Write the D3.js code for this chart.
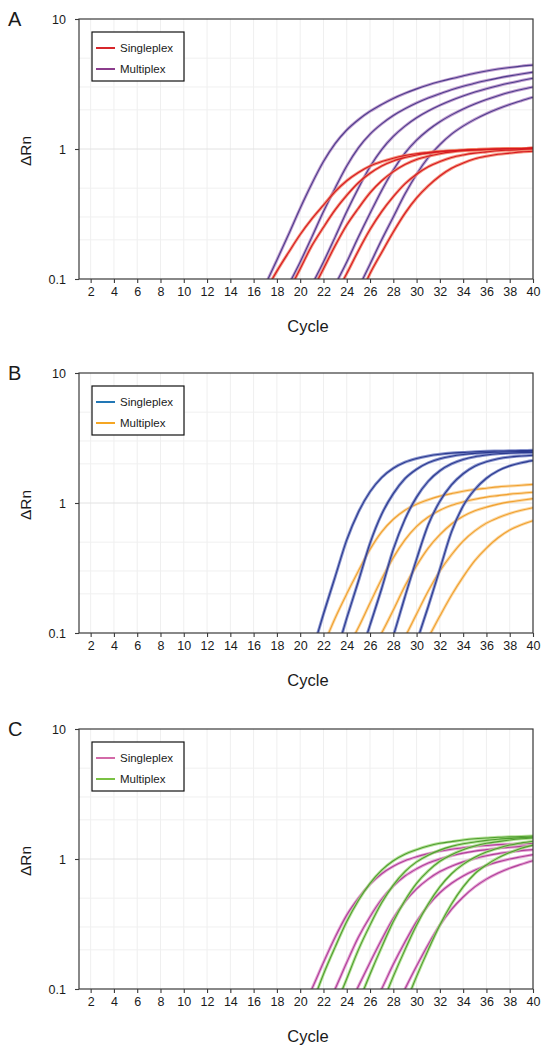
<!DOCTYPE html>
<html>
<head>
<meta charset="utf-8">
<script src="https://cdn.jsdelivr.net/npm/d3@7"></script>
<style>
  body { margin: 0; background: #fff; }
  svg { font-family: "Liberation Sans", Arial, sans-serif; }
</style>
</head>
<body>
<svg id="chart" width="542" height="1045"></svg>
<script>
// tick labels / categories
const xTicks = d3.range(2, 41, 2);
const yTicks = [0.1, 1, 10];
const seriesNames = ["Singleplex", "Multiplex"];

// each run: first cycle c0, then delta Rn at c0, c0+1, ... 40
const aSingleplex = [
  {c0: 17, v: [0.08,0.115,0.16,0.22,0.29,0.37,0.47,0.57,0.66,0.74,0.80,0.85,0.89,0.92,0.94,0.96,0.97,0.98,0.99,0.99,1.0,1.0,1.01,1.01]},
  {c0: 19, v: [0.08,0.12,0.18,0.25,0.34,0.44,0.55,0.65,0.74,0.81,0.86,0.90,0.93,0.95,0.97,0.98,0.99,1.0,1.0,1.01,1.01,1.02]},
  {c0: 21, v: [0.08,0.12,0.18,0.26,0.35,0.46,0.57,0.67,0.76,0.83,0.88,0.92,0.95,0.97,0.98,0.99,1.0,1.01,1.01,1.02]},
  {c0: 23, v: [0.075,0.11,0.165,0.24,0.33,0.43,0.54,0.64,0.73,0.80,0.86,0.90,0.93,0.95,0.97,0.98,0.99,1.0]},
  {c0: 25, v: [0.07,0.11,0.16,0.23,0.32,0.42,0.52,0.62,0.71,0.78,0.84,0.88,0.91,0.93,0.95,0.96]}
];
const aMultiplex = [
  {c0: 17, v: [0.09,0.14,0.22,0.35,0.54,0.80,1.10,1.40,1.68,1.95,2.20,2.45,2.68,2.90,3.11,3.30,3.48,3.65,3.82,3.98,4.12,4.24,4.34,4.42]},
  {c0: 19, v: [0.09,0.135,0.21,0.33,0.50,0.74,1.02,1.30,1.56,1.81,2.04,2.26,2.47,2.66,2.86,3.04,3.20,3.36,3.51,3.65,3.78,3.90]},
  {c0: 21, v: [0.09,0.135,0.21,0.33,0.50,0.73,0.99,1.25,1.50,1.74,1.96,2.17,2.37,2.56,2.74,2.91,3.07,3.22,3.36,3.50]},
  {c0: 23, v: [0.09,0.135,0.21,0.32,0.48,0.69,0.93,1.17,1.40,1.62,1.83,2.03,2.22,2.40,2.57,2.73,2.87,3.00]},
  {c0: 25, v: [0.085,0.13,0.20,0.30,0.45,0.64,0.86,1.08,1.30,1.50,1.69,1.87,2.04,2.20,2.35,2.50]}
];

const bSingleplex = [
  {c0: 21, v: [0.07,0.14,0.27,0.52,0.85,1.22,1.57,1.85,2.06,2.20,2.30,2.37,2.42,2.45,2.48,2.50,2.51,2.52,2.53,2.54]},
  {c0: 23, v: [0.065,0.13,0.25,0.49,0.82,1.18,1.54,1.82,2.04,2.19,2.29,2.36,2.41,2.44,2.46,2.48,2.49,2.50]},
  {c0: 25, v: [0.06,0.115,0.22,0.44,0.75,1.11,1.47,1.77,2.0,2.16,2.27,2.34,2.39,2.42,2.44,2.45]},
  {c0: 27, v: [0.05,0.095,0.19,0.37,0.68,1.03,1.38,1.68,1.92,2.08,2.19,2.26,2.30,2.33]},
  {c0: 30, v: [0.085,0.16,0.31,0.60,0.95,1.27,1.55,1.77,1.93,2.04,2.12]}
];
const bMultiplex = [
  {c0: 22, v: [0.08,0.13,0.20,0.30,0.44,0.60,0.75,0.88,0.98,1.06,1.13,1.18,1.23,1.27,1.30,1.33,1.35,1.37,1.39]},
  {c0: 24, v: [0.075,0.11,0.17,0.26,0.38,0.52,0.66,0.78,0.88,0.96,1.02,1.07,1.11,1.14,1.17,1.19,1.21]},
  {c0: 26, v: [0.07,0.10,0.15,0.23,0.33,0.45,0.57,0.69,0.79,0.87,0.93,0.98,1.02,1.05,1.08]},
  {c0: 28, v: [0.065,0.093,0.14,0.21,0.30,0.40,0.51,0.61,0.70,0.77,0.83,0.88,0.92]},
  {c0: 30, v: [0.065,0.092,0.135,0.195,0.27,0.36,0.45,0.54,0.62,0.68,0.73]}
];

const cSingleplex = [
  {c0: 20, v: [0.065,0.10,0.16,0.25,0.37,0.50,0.64,0.77,0.88,0.97,1.04,1.10,1.15,1.19,1.22,1.25,1.27,1.29,1.30,1.31,1.32]},
  {c0: 22, v: [0.065,0.10,0.16,0.25,0.36,0.49,0.62,0.74,0.84,0.93,1.0,1.06,1.11,1.15,1.18,1.21,1.23,1.25,1.27]},
  {c0: 24, v: [0.068,0.105,0.16,0.24,0.35,0.47,0.59,0.70,0.80,0.88,0.95,1.01,1.06,1.10,1.13,1.16,1.18]},
  {c0: 26, v: [0.066,0.10,0.155,0.23,0.33,0.44,0.55,0.65,0.74,0.82,0.89,0.95,1.0,1.04,1.08]},
  {c0: 28, v: [0.066,0.10,0.15,0.22,0.31,0.41,0.51,0.61,0.70,0.78,0.85,0.91,0.97]}
];
const cMultiplex = [
  {c0: 21, v: [0.075,0.13,0.21,0.33,0.48,0.65,0.82,0.97,1.09,1.18,1.26,1.32,1.36,1.40,1.43,1.45,1.47,1.48,1.49,1.50]},
  {c0: 23, v: [0.072,0.12,0.20,0.31,0.46,0.63,0.80,0.95,1.07,1.17,1.25,1.31,1.35,1.39,1.42,1.44,1.46,1.47]},
  {c0: 25, v: [0.078,0.13,0.21,0.33,0.48,0.65,0.81,0.96,1.08,1.18,1.26,1.32,1.36,1.40,1.43,1.45]},
  {c0: 27, v: [0.075,0.125,0.20,0.31,0.45,0.61,0.77,0.91,1.03,1.13,1.21,1.28,1.33,1.37]},
  {c0: 29, v: [0.075,0.125,0.20,0.31,0.45,0.61,0.77,0.90,1.02,1.12,1.21,1.28]}
];

const svg = d3.select("#chart");
const left = 79, right = 533, plotH = 260;
const gridValues = [0.2, 0.3, 0.5, 2, 3, 5];

function drawPanel({letter, top, single, multi, colors}) {
  const x = d3.scaleLinear([1, 40], [left, right]);
  const y = d3.scaleLog([0.1, 10], [top + plotH, top]);
  const g = svg.append("g");

  // faint background grid
  g.append("g").selectAll("line").data(xTicks).join("line")
    .attr("x1", d => x(d)).attr("x2", d => x(d))
    .attr("y1", top).attr("y2", top + plotH)
    .attr("stroke", "#efefef").attr("stroke-width", 1);
  g.append("g").selectAll("line").data(gridValues.concat([1])).join("line")
    .attr("x1", left).attr("x2", right)
    .attr("y1", d => y(d)).attr("y2", d => y(d))
    .attr("stroke", d => d === 1 ? "#e2e2e2" : "#f0f0f0").attr("stroke-width", 1);

  const clipId = "clip" + letter;
  g.append("clipPath").attr("id", clipId)
    .append("rect").attr("x", left).attr("y", top)
    .attr("width", right - left).attr("height", plotH);

  const line = run => d3.line()
    .x((d, i) => x(run.c0 + i))
    .y(d => y(d))
    .curve(d3.curveMonotoneX)(run.v);

  const curves = g.append("g").attr("clip-path", `url(#${clipId})`);
  const order = colors.singleOnTop ? [[multi, colors.multi], [single, colors.single]]
                                   : [[single, colors.single], [multi, colors.multi]];
  order.forEach(([runs, c]) => {
    curves.append("g").selectAll("path").data(runs).join("path")
      .attr("d", line).attr("fill", "none")
      .attr("stroke", c.band).attr("stroke-width", 3).attr("stroke-opacity", 0.8);
    curves.append("g").selectAll("path").data(runs).join("path")
      .attr("d", line).attr("fill", "none")
      .attr("stroke", c.core).attr("stroke-width", 1.1);
  });

  // frame
  g.append("rect").attr("x", left).attr("y", top)
    .attr("width", right - left).attr("height", plotH)
    .attr("fill", "none").attr("stroke", "#3a3a3a").attr("stroke-width", 1.2);

  // axes
  const xAxis = g.append("g")
    .attr("transform", `translate(0,${top + plotH})`)
    .call(d3.axisBottom(x).tickValues(xTicks).tickSize(4).tickPadding(4).tickFormat(d3.format("d")));
  const yAxis = g.append("g")
    .attr("transform", `translate(${left},0)`)
    .call(d3.axisLeft(y).tickValues(yTicks).tickSize(4).tickPadding(9).tickFormat(d => d));
  [xAxis, yAxis].forEach(a => {
    a.select(".domain").remove();
    a.selectAll(".tick line").attr("stroke", "#3a3a3a").attr("stroke-width", 1.1);
    a.selectAll(".tick text").attr("fill", "#1a1a1a")
      .style("font-size", "12.5px").style("font-family", "'Liberation Sans', Arial, sans-serif");
  });

  g.append("text")
    .attr("x", 308).attr("y", top + plotH + 53)
    .attr("text-anchor", "middle").attr("fill", "#1a1a1a")
    .style("font-size", "16.5px").text("Cycle");

  g.append("text")
    .attr("transform", `translate(31,${top + 132}) rotate(-90)`)
    .attr("text-anchor", "middle").attr("fill", "#1a1a1a")
    .style("font-size", "15.5px").text("ΔRn");

  g.append("text")
    .attr("x", 8).attr("y", top + 7)
    .attr("fill", "#1a1a1a").style("font-size", "20px").text(letter);

  // legend
  const lx = left + 13, ly = top + 13;
  const leg = g.append("g");
  leg.append("rect").attr("x", lx).attr("y", ly).attr("width", 92).attr("height", 49)
    .attr("fill", "#fff").attr("stroke", "#111").attr("stroke-width", 1.2);
  leg.selectAll("g.item").data(seriesNames).join("g").attr("class", "item")
    .each(function(name, i) {
      const yy = ly + 16 + i * 21;
      const it = d3.select(this);
      it.append("line").attr("x1", lx + 4).attr("x2", lx + 23)
        .attr("y1", yy).attr("y2", yy)
        .attr("stroke", i === 0 ? colors.single.legend : colors.multi.legend)
        .attr("stroke-width", 2);
      it.append("text").attr("x", lx + 28).attr("y", yy).attr("dy", "0.35em")
        .attr("fill", "#1a1a1a").style("font-size", "11.5px").text(name);
    });
}

drawPanel({
  letter: "A", top: 19, single: aSingleplex, multi: aMultiplex,
  colors: {
    singleOnTop: true,
    single: {band: "#f07a60", core: "#d7191f", legend: "#d7262b"},
    multi: {band: "#b086c4", core: "#4e3d8c", legend: "#8b3c8c"}
  }
});
drawPanel({
  letter: "B", top: 373, single: bSingleplex, multi: bMultiplex,
  colors: {
    singleOnTop: true,
    single: {band: "#6d7bc2", core: "#2b3a8f", legend: "#2277b5"},
    multi: {band: "#fad08e", core: "#f0a030", legend: "#f5a623"}
  }
});
drawPanel({
  letter: "C", top: 729, single: cSingleplex, multi: cMultiplex,
  colors: {
    singleOnTop: false,
    single: {band: "#de8ec9", core: "#b0409a", legend: "#d36aa8"},
    multi: {band: "#a2da80", core: "#4f9e2f", legend: "#7ac143"}
  }
});
</script>
</body>
</html>
